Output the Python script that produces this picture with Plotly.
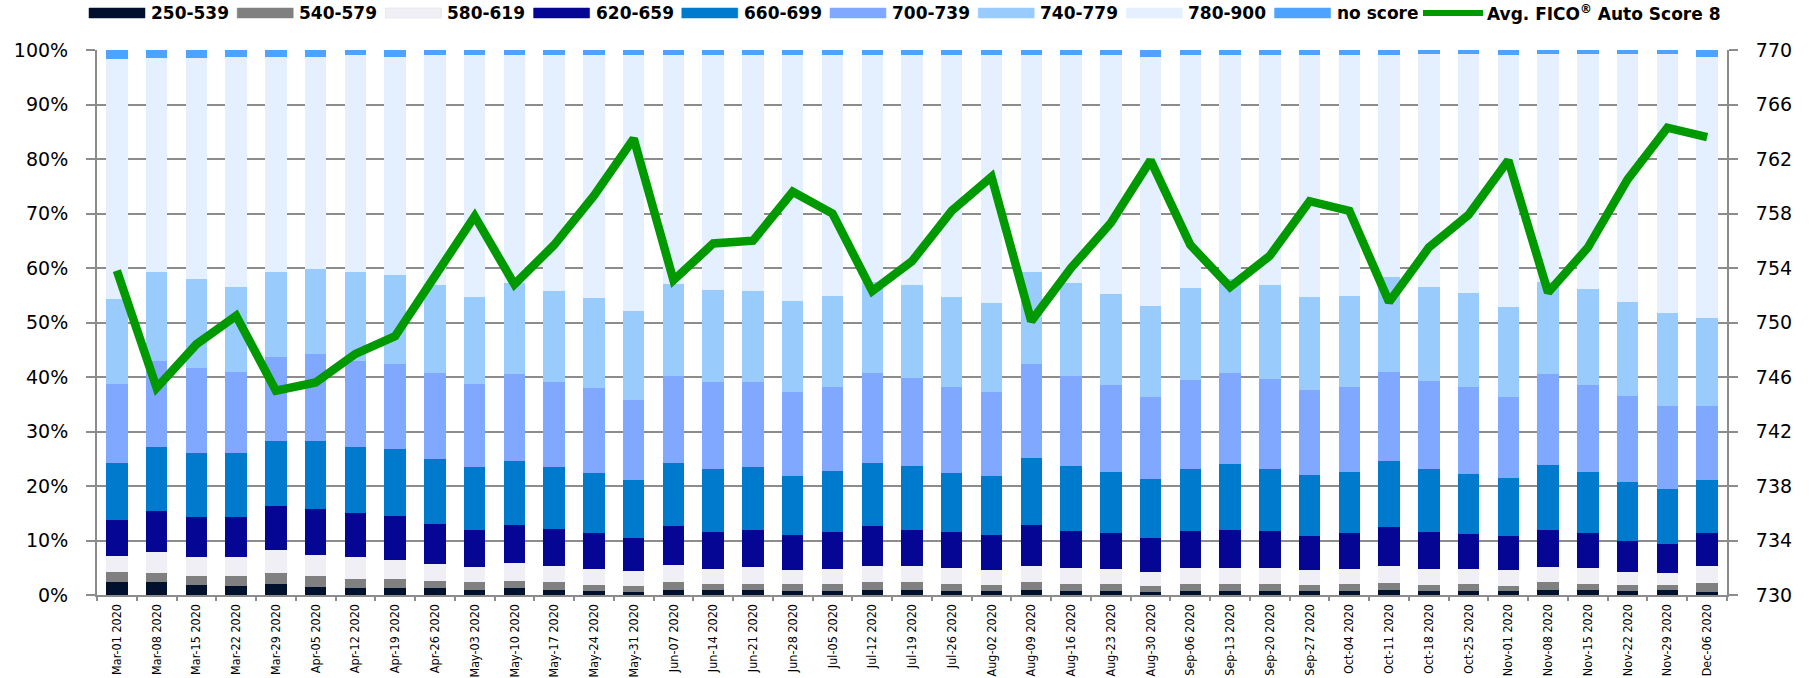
import plotly.graph_objects as go

weeks = ["Mar-01 2020", "Mar-08 2020", "Mar-15 2020", "Mar-22 2020", "Mar-29 2020",
         "Apr-05 2020", "Apr-12 2020", "Apr-19 2020", "Apr-26 2020", "May-03 2020",
         "May-10 2020", "May-17 2020", "May-24 2020", "May-31 2020", "Jun-07 2020",
         "Jun-14 2020", "Jun-21 2020", "Jun-28 2020", "Jul-05 2020", "Jul-12 2020",
         "Jul-19 2020", "Jul-26 2020", "Aug-02 2020", "Aug-09 2020", "Aug-16 2020",
         "Aug-23 2020", "Aug-30 2020", "Sep-06 2020", "Sep-13 2020", "Sep-20 2020",
         "Sep-27 2020", "Oct-04 2020", "Oct-11 2020", "Oct-18 2020", "Oct-25 2020",
         "Nov-01 2020", "Nov-08 2020", "Nov-15 2020", "Nov-22 2020", "Nov-29 2020",
         "Dec-06 2020"]

s_250_539 = [2.4, 2.3, 1.8, 1.7, 2.1, 1.5, 1.2, 1.2, 1.2, 1.0, 1.2, 0.9, 0.8, 0.6, 1.0, 0.9, 0.9, 0.8, 0.8, 0.9,
             1.0, 0.8, 0.7, 0.9, 0.8, 0.7, 0.6, 0.8, 0.7, 0.7, 0.7, 0.8, 0.9, 0.7, 0.8, 0.7, 1.0, 0.9, 0.8, 0.9, 0.5]
s_540_579 = [1.8, 1.8, 1.7, 1.7, 2.0, 1.9, 1.8, 1.7, 1.3, 1.3, 1.4, 1.4, 1.1, 1.1, 1.4, 1.1, 1.2, 1.2, 1.2, 1.4,
             1.3, 1.3, 1.2, 1.4, 1.2, 1.3, 1.0, 1.2, 1.3, 1.3, 1.1, 1.2, 1.3, 1.1, 1.2, 1.0, 1.3, 1.2, 1.0, 1.0, 1.7]
s_580_619 = [3.0, 3.7, 3.5, 3.5, 4.1, 3.9, 3.9, 3.6, 3.1, 2.8, 3.3, 3.0, 2.9, 2.7, 3.1, 2.8, 3.0, 2.6, 2.8, 3.1,
             3.0, 2.9, 2.7, 3.1, 3.0, 2.8, 2.7, 2.9, 3.0, 3.0, 2.7, 2.8, 3.1, 3.0, 2.7, 2.8, 2.8, 2.8, 2.5, 2.2, 3.1]
s_620_659 = [6.6, 7.7, 7.4, 7.5, 8.1, 8.4, 8.2, 8.0, 7.4, 6.9, 7.0, 6.8, 6.5, 6.1, 7.2, 6.8, 6.8, 6.5, 6.8, 7.2,
             6.7, 6.5, 6.4, 7.5, 6.8, 6.6, 6.2, 6.8, 6.9, 6.7, 6.3, 6.6, 7.2, 6.8, 6.5, 6.3, 6.8, 6.4, 5.7, 5.3, 6.1]
s_660_699 = [10.4, 11.7, 11.7, 11.6, 12.0, 12.6, 12.0, 12.3, 12.0, 11.4, 11.7, 11.3, 11.1, 10.6, 11.5, 11.5, 11.5,
             10.8, 11.2, 11.7, 11.7, 10.8, 10.9, 12.3, 11.8, 11.1, 10.7, 11.4, 12.1, 11.5, 11.2, 11.1, 12.0, 11.6,
             11.0, 10.7, 12.0, 11.3, 10.7, 10.1, 9.7]
s_700_739 = [14.5, 15.7, 15.6, 14.9, 15.4, 15.9, 15.8, 15.6, 15.8, 15.3, 16.0, 15.7, 15.5, 14.7, 16.0, 15.9, 15.7,
             15.3, 15.4, 16.4, 16.1, 15.8, 15.4, 17.1, 16.5, 16.0, 15.1, 16.3, 16.8, 16.4, 15.7, 15.7, 16.5, 16.1,
             16.0, 14.8, 16.7, 15.9, 15.9, 15.2, 13.6]
s_740_779 = [15.6, 16.3, 16.3, 15.7, 15.6, 15.7, 16.4, 16.4, 16.1, 16.0, 16.6, 16.7, 16.6, 16.4, 16.8, 17.0, 16.6,
             16.7, 16.7, 16.8, 17.1, 16.6, 16.2, 17.0, 17.1, 16.8, 16.7, 17.0, 17.2, 17.3, 16.9, 16.7, 17.4, 17.2,
             17.2, 16.5, 16.9, 17.6, 17.2, 17.0, 16.2]
s_780_900 = [44.0, 39.3, 40.6, 42.2, 39.4, 38.9, 39.7, 40.0, 42.1, 44.3, 41.9, 43.2, 44.5, 46.8, 42.0, 43.0, 43.3,
             45.1, 44.1, 41.5, 42.1, 44.3, 45.5, 39.7, 41.8, 43.7, 45.7, 42.6, 41.0, 42.1, 44.4, 44.1, 40.6, 42.7,
             43.8, 46.3, 41.7, 43.1, 45.4, 47.5, 47.9]
s_no_score = [1.7, 1.5, 1.4, 1.2, 1.3, 1.2, 1.0, 1.2, 1.0, 1.0, 0.9, 1.0, 1.0, 1.0, 1.0, 1.0, 1.0, 1.0, 1.0, 1.0,
              1.0, 1.0, 1.0, 1.0, 1.0, 1.0, 1.3, 1.0, 1.0, 1.0, 1.0, 1.0, 1.0, 0.8, 0.8, 0.9, 0.8, 0.8, 0.8, 0.8, 1.2]

avg_fico = [753.8, 745.2, 748.4, 750.5, 745.0, 745.6, 747.7, 749.0, 753.4, 757.8, 752.8, 755.7, 759.3, 763.5,
            753.1, 755.8, 756.0, 759.6, 758.0, 752.3, 754.5, 758.2, 760.7, 750.1, 754.0, 757.3, 761.9, 755.7,
            752.6, 754.9, 758.9, 758.2, 751.5, 755.5, 757.9, 761.9, 752.2, 755.5, 760.5, 764.3, 763.6]

series_names = ["250-539", "540-579", "580-619", "620-659", "660-699", "700-739", "740-779", "780-900", "no score"]
series_values = [s_250_539, s_540_579, s_580_619, s_620_659, s_660_699, s_700_739, s_740_779, s_780_900, s_no_score]
series_colors = ["#00112E", "#808080", "#EFEFF5", "#060694", "#007ACC", "#80A8FF", "#9ACBFD", "#E4F0FF", "#4DA3FF"]
line_name = "Avg. FICO<sup>®</sup> Auto Score 8"
line_color = "#009900"

fig = go.Figure()
for name, vals, col in zip(series_names, series_values, series_colors):
    fig.add_trace(go.Bar(x=weeks, y=vals, name=name, marker=dict(color=col, line=dict(width=0)),
                         showlegend=False))
fig.add_trace(go.Scatter(x=weeks, y=avg_fico, name="Avg. FICO® Auto Score 8", yaxis="y2", mode="lines",
                         line=dict(color=line_color, width=8.5), showlegend=False))

# plot-area geometry in pixels (layout)
W, H = 1814, 678
L, R, T, B = 97, 87, 50, 83
PW, PH = W - L - R, H - T - B


def px_x(p):
    return (p - L) / PW


def px_y(p):
    return (H - B - p) / PH


grid = "#8C8C8C"
shapes = []
annotations = []
leg_font = dict(family="DejaVu Sans", size=17, color="#000000")
for i, (name, col) in enumerate(zip(series_names, series_colors)):
    x0 = 89 + 148.2 * i
    shapes.append(dict(type="rect", xref="paper", yref="paper", x0=px_x(x0), x1=px_x(x0 + 56),
                       y0=px_y(18), y1=px_y(8), fillcolor=col,
                       line=dict(width=0.5, color="#D8D8DE" if i == 2 else col)))
    annotations.append(dict(xref="paper", yref="paper", x=px_x(x0 + 60), y=px_y(13), xanchor="left",
                            yanchor="middle", text="<b>" + name + "</b>", showarrow=False, font=leg_font))
lx0 = 1423
shapes.append(dict(type="line", xref="paper", yref="paper", x0=px_x(lx0), x1=px_x(lx0 + 60),
                   y0=px_y(13), y1=px_y(13), line=dict(color=line_color, width=6)))
annotations.append(dict(xref="paper", yref="paper", x=px_x(lx0 + 62), y=px_y(13), xanchor="left",
                        yanchor="middle", text="<b>" + line_name + "</b>", showarrow=False, font=leg_font))

fig.update_layout(
    width=W, height=H,
    margin=dict(l=L, r=R, t=T, b=B, autoexpand=False),
    barmode="stack", bargap=0.46,
    plot_bgcolor="white", paper_bgcolor="white",
    shapes=shapes, annotations=annotations,
    xaxis=dict(type="category", range=[-0.5, len(weeks) - 0.5], showgrid=False, automargin=False,
               showline=True, linecolor=grid, linewidth=2,
               ticks="outside", tickson="boundaries", ticklen=4, tickcolor=grid, tickwidth=1.5,
               tickangle=-90, ticklabelstandoff=2,
               tickfont=dict(family="DejaVu Sans Condensed, Roboto", size=12.5, color="#000000")),
    yaxis=dict(range=[0, 100], dtick=10, ticksuffix="%", showgrid=True, gridcolor=grid, gridwidth=1.5,
               zeroline=False, showline=True, linecolor=grid, linewidth=2, automargin=False,
               ticks="outside", ticklen=9, tickcolor=grid, tickwidth=1.5, ticklabelstandoff=14,
               tickfont=dict(family="DejaVu Sans", size=19, color="#000000")),
    yaxis2=dict(range=[730, 770], tick0=730, dtick=4, overlaying="y", side="right", showgrid=False,
                zeroline=False, showline=True, linecolor=grid, linewidth=2, automargin=False,
                ticks="outside", ticklen=9, tickcolor=grid, tickwidth=1.5, ticklabelstandoff=14,
                tickfont=dict(family="DejaVu Sans", size=19, color="#000000")),
)

fig.write_html("out.html")
